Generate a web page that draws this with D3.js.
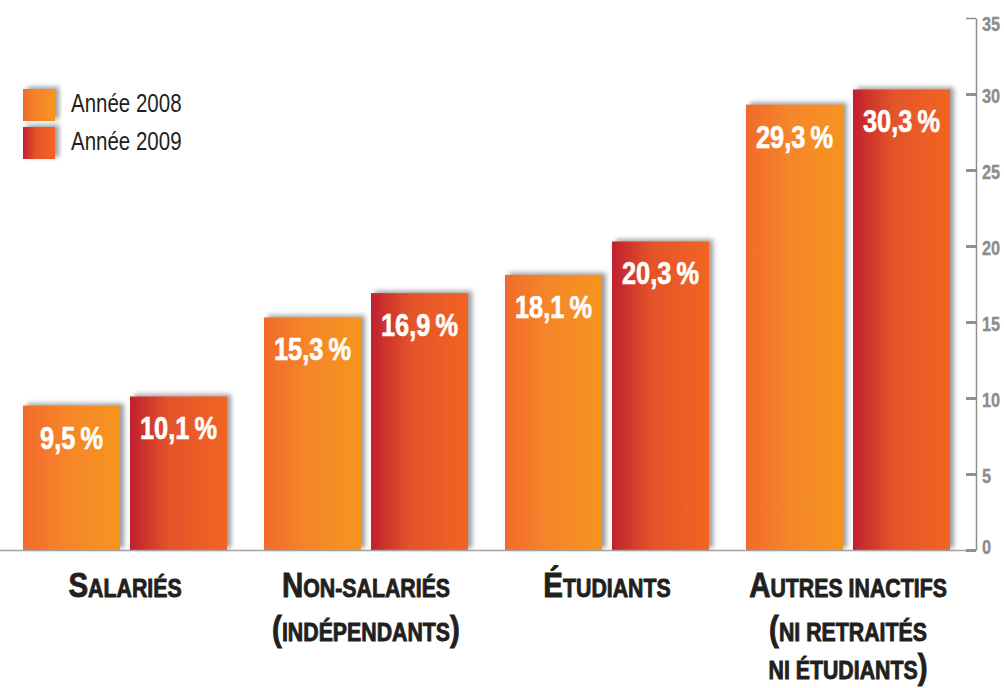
<!DOCTYPE html>
<html>
<head>
<meta charset="utf-8">
<script src="https://cdn.jsdelivr.net/npm/d3@7"></script>
<style>
  html, body { margin: 0; padding: 0; background: #fff; }
  svg { display: block; }
</style>
</head>
<body>
<svg id="chart" width="1004" height="688"></svg>
<script>
// ---- Data ----
const categories = [
  ["Salariés"],
  ["Non-salariés", "(indépendants)"],
  ["Étudiants"],
  ["Autres inactifs", "(ni retraités", "ni étudiants)"]
];
const series = ["Année 2008", "Année 2009"];
const values2008 = [9.5, 15.3, 18.1, 29.3];
const values2009 = [10.1, 16.9, 20.3, 30.3];
const yTicks = [0, 5, 10, 15, 20, 25, 30, 35];

// ---- Setup ----
const svg = d3.select("#chart");
const font = "'Liberation Sans', Arial, Helvetica, sans-serif";
const SX = 0.82; // horizontal condensation

const y = d3.scaleLinear().domain([0, 35]).range([550, 18]);
const x0 = d3.scaleBand().domain(d3.range(categories.length))
  .range([23, 950]).paddingInner(37 / 241).paddingOuter(0);
const x1 = d3.scaleBand().domain([0, 1])
  .range([0, x0.bandwidth()]).paddingInner(10 / 107).paddingOuter(0);

const defs = svg.append("defs");
function grad(id, stops) {
  const g = defs.append("linearGradient").attr("id", id)
    .attr("x1", "0%").attr("x2", "100%").attr("y1", "0%").attr("y2", "0%");
  stops.forEach(s => g.append("stop").attr("offset", s[0]).attr("stop-color", s[1]));
}
grad("g2008", [["0%", "#F26A2A"], ["45%", "#F5862A"], ["100%", "#F7941E"]]);
grad("g2009", [["0%", "#C0202E"], ["40%", "#E3532A"], ["100%", "#F26522"]]);

const f = defs.append("filter").attr("id", "shadow")
  .attr("x", "-20%").attr("y", "-20%").attr("width", "140%").attr("height", "140%");
f.append("feDropShadow").attr("dx", 4).attr("dy", -2).attr("stdDeviation", 2.5)
  .attr("flood-color", "#7a7a7a").attr("flood-opacity", 0.75);

// ---- Bars ----
const fmt = d3.formatLocale({decimal: ",", thousands: " ", grouping: [3], currency: ["", " €"]}).format(".1f");
const rows = categories.map((c, i) => ({i, vals: [values2008[i], values2009[i]]}));

const groups = svg.append("g").selectAll("g").data(rows).join("g")
  .attr("transform", d => `translate(${x0(d.i)},0)`);

groups.selectAll("rect").data(d => d.vals.map((v, k) => ({v, k}))).join("rect")
  .attr("x", d => x1(d.k))
  .attr("y", d => y(d.v))
  .attr("width", x1.bandwidth())
  .attr("height", d => y(0) - y(d.v))
  .attr("fill", d => d.k === 0 ? "url(#g2008)" : "url(#g2009)")
  .attr("filter", "url(#shadow)");

// baseline
svg.append("line")
  .attr("x1", 0).attr("x2", 976)
  .attr("y1", y(0) + 0.5).attr("y2", y(0) + 0.5)
  .attr("stroke", "#a3a3a3").attr("stroke-width", 1.5);

groups.selectAll("text.val").data(d => d.vals.map((v, k) => ({v, k}))).join("text")
  .attr("class", "val")
  .attr("transform", d => `translate(${x1(d.k) + x1.bandwidth() / 2},${y(d.v) + 43}) scale(${SX},1)`)
  .attr("text-anchor", "middle")
  .attr("font-family", font)
  .attr("font-weight", "bold")
  .attr("font-size", 31)
  .attr("fill", "#fff")
  .attr("stroke", "#fff")
  .attr("stroke-width", 0.6)
  .text(d => fmt(d.v) + "\u2009%");

// ---- Category labels (small caps) ----
const bigSize = 36, smallSize = 26;
const lineBase = [597, 641, 679];
const catG = svg.append("g");
categories.forEach((lines, i) => {
  const cx = x0(i) + x0.bandwidth() / 2;
  lines.forEach((line, li) => {
    const t = catG.append("text")
      .attr("transform", `translate(${cx},${lineBase[li]}) scale(${SX},1)`)
      .attr("text-anchor", "middle")
      .attr("font-family", font)
      .attr("font-weight", "bold")
      .attr("fill", "#231F20")
      .attr("stroke", "#231F20")
      .attr("stroke-width", 0.9);
    const chars = Array.from(line);
    const runs = [];
    chars.forEach((ch, ci) => {
      const big = (li === 0 && ci === 0) || ch === "(" || ch === ")";
      const last = runs[runs.length - 1];
      if (last && last.big === big) last.s += ch; else runs.push({big, s: ch});
    });
    runs.forEach(r => {
      t.append("tspan")
        .attr("font-size", r.big ? bigSize : smallSize)
        .text(r.s.toUpperCase());
    });
  });
});

// ---- Right axis ----
const axis = d3.axisRight(y).tickValues(yTicks).tickSizeInner(-10).tickSizeOuter(0).tickPadding(6);
const ax = svg.append("g").attr("transform", "translate(976,0)").call(axis);
ax.select(".domain").attr("stroke", "#8f8f8f").attr("stroke-width", 1.5);
ax.selectAll(".tick line").attr("stroke", "#8f8f8f")
  .attr("stroke-width", d => d === 35 ? 1.5 : 3);
ax.selectAll(".tick text")
  .attr("x", 6 / SX)
  .attr("transform", `scale(${SX},1)`)
  .attr("font-family", font)
  .attr("font-weight", "bold")
  .attr("font-size", 20)
  .attr("fill", "#8c8c8c")
  .attr("stroke", "#8c8c8c")
  .attr("stroke-width", 0.3)
  .attr("dy", d => d === 35 ? "0.6em" : (d === 0 ? "0.15em" : "0.4em"));

// ---- Legend ----
const legend = svg.append("g");
const legY = [89, 127];
series.forEach((s, k) => {
  legend.append("rect")
    .attr("x", 23).attr("y", legY[k]).attr("width", 32).attr("height", 32)
    .attr("fill", k === 0 ? "url(#g2008)" : "url(#g2009)")
    .attr("filter", "url(#shadow)");
  legend.append("text")
    .attr("transform", `translate(71,${legY[k] + 23}) scale(${SX},1)`)
    .attr("font-family", font)
    .attr("font-size", 25)
    .attr("fill", "#231F20")
    .text(s);
});
</script>
</body>
</html>
